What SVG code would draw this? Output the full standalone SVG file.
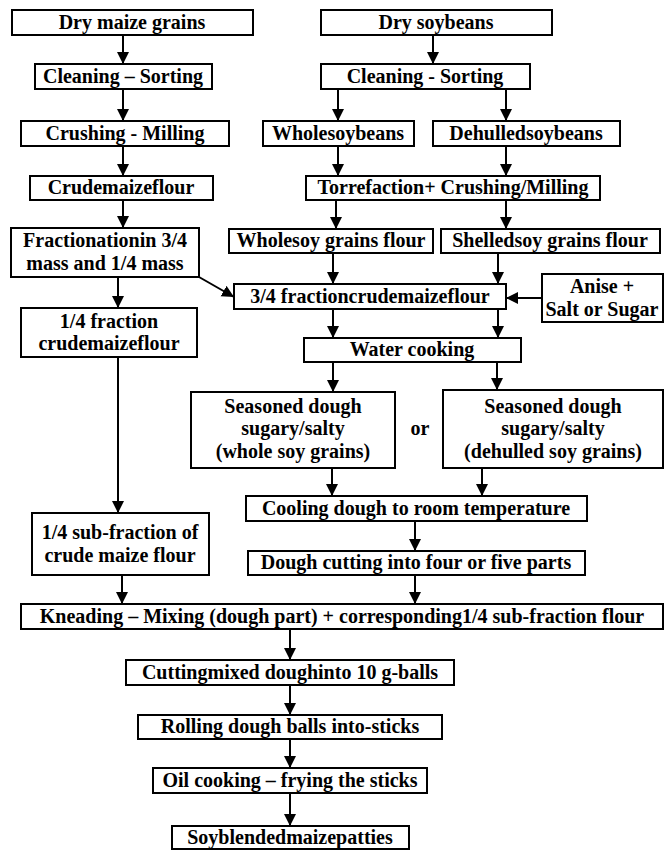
<svg xmlns="http://www.w3.org/2000/svg" width="670" height="850" viewBox="0 0 670 850">
<style>
.b{fill:#fff;stroke:#000;stroke-width:2}
.t{font-family:"Liberation Serif","Times New Roman",serif;font-weight:bold;font-size:20px;fill:#000;text-anchor:middle}
.c{stroke:#000;stroke-width:2;fill:none;marker-end:url(#ah)}
</style>
<defs>
<marker id="ah" markerUnits="userSpaceOnUse" markerWidth="12" markerHeight="13" refX="12" refY="6" orient="auto" viewBox="0 0 12 12">
<path d="M0,0 L12,6 L0,12 Z" fill="#000"/>
</marker>
</defs>
<rect width="670" height="850" fill="#fff"/>
<g id="connectors">
<line class="c" x1="123" y1="35" x2="123" y2="64"/>
<line class="c" x1="123" y1="89" x2="123" y2="121"/>
<line class="c" x1="123" y1="146" x2="123" y2="176"/>
<line class="c" x1="123" y1="200" x2="123" y2="228"/>
<line class="c" x1="433" y1="35" x2="433" y2="64"/>
<line class="c" x1="338" y1="89" x2="338" y2="121"/>
<line class="c" x1="506" y1="89" x2="506" y2="121"/>
<line class="c" x1="338" y1="146" x2="338" y2="176"/>
<line class="c" x1="506" y1="146" x2="506" y2="176"/>
<line class="c" x1="336" y1="200" x2="336" y2="229"/>
<line class="c" x1="506" y1="200" x2="506" y2="229"/>
<line class="c" x1="333" y1="253" x2="333" y2="284"/>
<line class="c" x1="498" y1="253" x2="498" y2="284"/>
<line class="c" x1="542" y1="298" x2="506" y2="298"/>
<line class="c" x1="199" y1="277" x2="234" y2="297"/>
<line class="c" x1="118" y1="277" x2="118" y2="308"/>
<line class="c" x1="333" y1="309" x2="333" y2="338"/>
<line class="c" x1="498" y1="309" x2="498" y2="338"/>
<line class="c" x1="333" y1="362" x2="333" y2="392"/>
<line class="c" x1="497" y1="362" x2="497" y2="390"/>
<line class="c" x1="118" y1="357" x2="118" y2="513"/>
<line class="c" x1="332" y1="468" x2="332" y2="496"/>
<line class="c" x1="482" y1="468" x2="482" y2="496"/>
<line class="c" x1="415" y1="521" x2="415" y2="551"/>
<line class="c" x1="122" y1="575" x2="122" y2="604"/>
<line class="c" x1="415" y1="575" x2="415" y2="604"/>
<line class="c" x1="290" y1="629" x2="290" y2="660"/>
<line class="c" x1="290" y1="685" x2="290" y2="715"/>
<line class="c" x1="290" y1="739" x2="290" y2="768"/>
<line class="c" x1="290" y1="793" x2="290" y2="826"/>
</g>
<g id="n1"><rect class="b" x="12" y="10" width="241" height="25"/><text class="t" x="132" y="29">Dry maize grains</text></g>
<g id="n2"><rect class="b" x="35" y="64" width="177" height="25"/><text class="t" x="123" y="83">Cleaning – Sorting</text></g>
<g id="n3"><rect class="b" x="21" y="121" width="208" height="25"/><text class="t" x="125" y="140">Crushing - Milling</text></g>
<g id="n4"><rect class="b" x="30" y="176" width="183" height="24"/><text class="t" x="121" y="194">Crudemaizeflour</text></g>
<g id="n5"><rect class="b" x="321" y="10" width="231" height="25"/><text class="t" x="436" y="29">Dry soybeans</text></g>
<g id="n6"><rect class="b" x="321" y="64" width="209" height="25"/><text class="t" x="425" y="83">Cleaning - Sorting</text></g>
<g id="n7"><rect class="b" x="263" y="121" width="151" height="25"/><text class="t" x="338" y="140">Wholesoybeans</text></g>
<g id="n8"><rect class="b" x="433" y="121" width="187" height="25"/><text class="t" x="526" y="140">Dehulledsoybeans</text></g>
<g id="n9"><rect class="b" x="306" y="176" width="294" height="24"/><text class="t" x="453" y="194">Torrefaction+ Crushing/Milling</text></g>
<g id="n10"><rect class="b" x="11" y="228" width="188" height="49"/><text class="t" x="105" y="247">Fractionationin 3/4</text><text class="t" x="105" y="270">mass and 1/4 mass</text></g>
<g id="n11"><rect class="b" x="229" y="229" width="204" height="24"/><text class="t" x="331" y="247">Wholesoy grains flour</text></g>
<g id="n12"><rect class="b" x="441" y="229" width="219" height="24"/><text class="t" x="550" y="247">Shelledsoy grains flour</text></g>
<g id="n13"><rect class="b" x="234" y="284" width="272" height="25"/><text class="t" x="370" y="303">3/4 fractioncrudemaizeflour</text></g>
<g id="n14"><rect class="b" x="542" y="274" width="121" height="48"/><text class="t" x="602" y="293">Anise +</text><text class="t" x="602" y="316">Salt or Sugar</text></g>
<g id="n15"><rect class="b" x="21" y="308" width="176" height="49"/><text class="t" x="109" y="328">1/4 fraction</text><text class="t" x="109" y="350">crudemaizeflour</text></g>
<g id="n16"><rect class="b" x="304" y="338" width="217" height="24"/><text class="t" x="412" y="356">Water cooking</text></g>
<g id="n17"><rect class="b" x="191" y="392" width="204" height="76"/><text class="t" x="293" y="413">Seasoned dough</text><text class="t" x="293" y="435">sugary/salty</text><text class="t" x="293" y="458">(whole soy grains)</text></g>
<g id="n18"><text class="t" x="420" y="435">or</text></g>
<g id="n19"><rect class="b" x="443" y="390" width="220" height="78"/><text class="t" x="553" y="413">Seasoned dough</text><text class="t" x="553" y="435">sugary/salty</text><text class="t" x="553" y="458">(dehulled soy grains)</text></g>
<g id="n20"><rect class="b" x="246" y="496" width="341" height="25"/><text class="t" x="416" y="515">Cooling dough to room temperature</text></g>
<g id="n21"><rect class="b" x="32" y="513" width="177" height="62"/><text class="t" x="120" y="539">1/4 sub-fraction of</text><text class="t" x="120" y="562">crude maize flour</text></g>
<g id="n22"><rect class="b" x="248" y="551" width="337" height="24"/><text class="t" x="416" y="569">Dough cutting into four or five parts</text></g>
<g id="n23"><rect class="b" x="21" y="604" width="642" height="25"/><text class="t" x="342" y="623">Kneading – Mixing (dough part) + corresponding1/4 sub-fraction flour</text></g>
<g id="n24"><rect class="b" x="126" y="660" width="328" height="25"/><text class="t" x="290" y="679">Cuttingmixed doughinto 10 g-balls</text></g>
<g id="n25"><rect class="b" x="138" y="715" width="304" height="24"/><text class="t" x="290" y="733">Rolling dough balls into-sticks</text></g>
<g id="n26"><rect class="b" x="153" y="768" width="274" height="25"/><text class="t" x="290" y="787">Oil cooking – frying the sticks</text></g>
<g id="n27"><rect class="b" x="172" y="826" width="237" height="23"/><text class="t" x="290" y="844">Soyblendedmaizepatties</text></g>
</svg>
